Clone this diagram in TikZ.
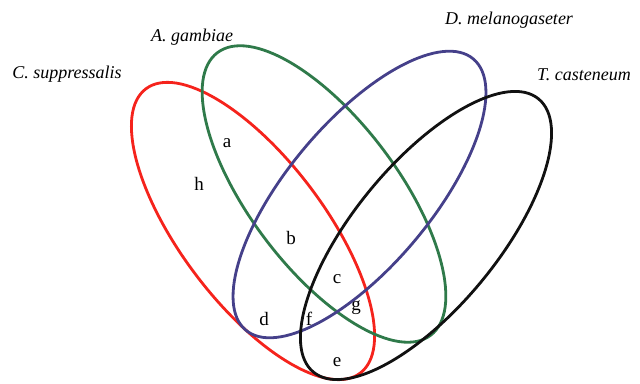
\documentclass[tikz,border=0pt]{standalone}
\usepackage{fontspec}
\setmainfont{Liberation Serif}
\usepackage{xcolor}
\definecolor{setred}{HTML}{F5231C}
\definecolor{setgreen}{HTML}{2F7A4A}
\definecolor{setblue}{HTML}{45408A}
\definecolor{setblack}{HTML}{111111}
\tikzset{
  setline/.style={line width=2.8pt},
  species/.style={font=\fontsize{18}{20}\selectfont\itshape, inner sep=0pt},
  region/.style={font=\fontsize{19}{21}\selectfont, inner sep=0pt},
}

\begin{document}
\begin{tikzpicture}[x=1pt, y=1pt]  % 1 unit = 1 px of the 640 x 383 frame
  \useasboundingbox (0,0) rectangle (640,383);
  % vier Mengen als gedrehte Ellipsen
  \draw[setline, draw=setred]   (253,152) ellipse[x radius=178, y radius=72, rotate=-53];
  \draw[setline, draw=setgreen] (324,189) ellipse[x radius=177, y radius=74, rotate=-53];
  \draw[setline, draw=setblue]  (359.5,188.5) ellipse[x radius=177, y radius=72, rotate=50];
  \draw[setline, draw=setblack] (426,147.5) ellipse[x radius=177, y radius=72, rotate=50.5];
  % Artnamen
  \node[species] (cs) at (67,309) {C. suppressalis};
  \node[species] (ag) at (192,346) {A. gambiae};
  \node[species] (dm) at (509,363) {D. melanogaseter};
  \node[species] (tc) at (584,308) {T. casteneum};
  % Schnittmengen
  \node[region] (ra) at (227,240) {a};
  \node[region] (rh) at (199,199) {h};
  \node[region] (rb) at (291,145) {b};
  \node[region] (rc) at (337,104) {c};
  \node[region] (rd) at (264,64) {d};
  \node[region] (rf) at (309,64) {f};
  \node[region] (rg) at (356,75) {g};
  \node[region] (re) at (337,21) {e};
\end{tikzpicture}
\end{document}
